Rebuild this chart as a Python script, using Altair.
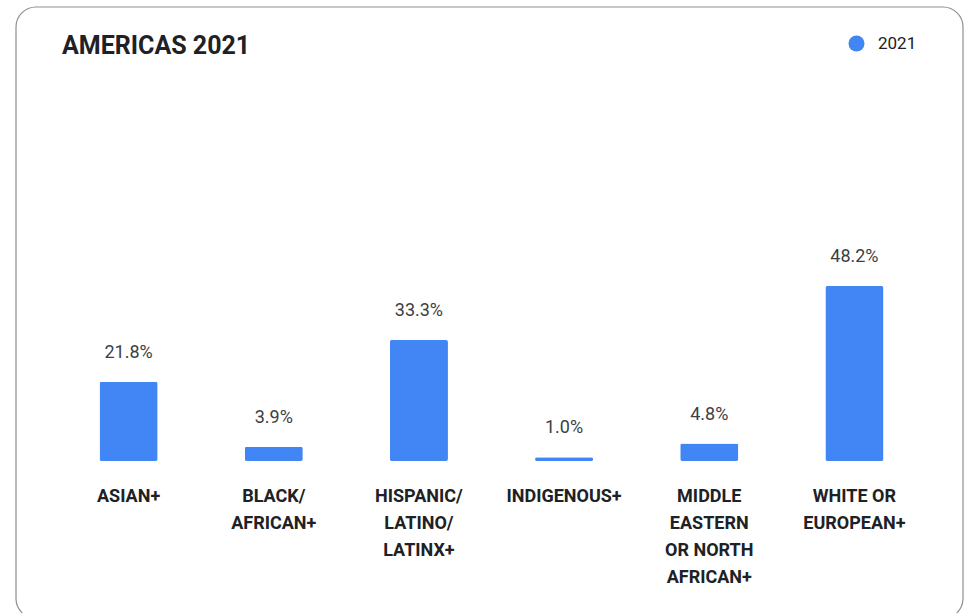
import altair as alt
import pandas as pd

categories = ["ASIAN+", "BLACK/\nAFRICAN+", "HISPANIC/\nLATINO/\nLATINX+", "INDIGENOUS+",
              "MIDDLE\nEASTERN\nOR NORTH\nAFRICAN+", "WHITE OR\nEUROPEAN+"]
values = [21.8, 3.9, 33.3, 1.0, 4.8, 48.2]
labels = ["21.8%", "3.9%", "33.3%", "1.0%", "4.8%", "48.2%"]
series = ["2021"] * 6

df = pd.DataFrame({"cat": categories, "val": values, "label": labels, "series": series})

FONT = "Roboto"
W, H = 871, 181.5
PL, PT = 56, 279.5
PR, PB = 970 - PL - W, 613 - PT - H

x = alt.X("cat:N", sort=categories, title=None,
          scale=alt.Scale(paddingInner=0.6, paddingOuter=0.3),
          axis=alt.Axis(labelAngle=0, ticks=False, domain=False, grid=False,
                        labelExpr="split(datum.label, '\\n')",
                        labelFont=FONT, labelFontSize=18, labelFontWeight="bold",
                        labelColor="#202124", labelLineHeight=27, labelPadding=26,
                        labelAlign="center", labelBaseline="top"))
y = alt.Y("val:Q", scale=alt.Scale(domain=[0, 50], nice=False), axis=None)

base = alt.Chart(df)

bars = base.mark_bar(color="#4285F4", cornerRadius=2).encode(
    x=x, y=y,
    color=alt.Color("series:N", scale=alt.Scale(range=["#4285F4"]),
                    legend=alt.Legend(title=None, orient="none", legendX=792, legendY=-244.5,
                                      symbolType="circle", symbolSize=256,
                                      labelFont=FONT, labelFontSize=17, labelColor="#202124",
                                      symbolStrokeWidth=0, labelOffset=13))
)

text = base.mark_text(font=FONT, fontSize=18, color="#3c4043", dy=-24,
                      baseline="alphabetic").encode(
    x=alt.X("cat:N", sort=categories), y=y, text="label:N")

card = alt.Chart(pd.DataFrame({"a": [0]})).mark_rect(
    fill=None, stroke="#8f8f8f", strokeWidth=1.2, cornerRadius=20
).encode(x=alt.value(-40), x2=alt.value(907), y=alt.value(-272.5), y2=alt.value(339))

chart = alt.layer(card, bars, text).properties(
    width=W, height=H,
    padding={"left": PL, "top": PT, "right": PR, "bottom": PB},
    autosize=alt.AutoSizeParams(type="none"),
    title=alt.TitleParams("AMERICAS 2021", anchor="start", frame="group",
                          font=FONT, fontSize=25, fontWeight="bold", color="#202124",
                          dx=6, dy=73, baseline="alphabetic", offset=0),
).configure_view(stroke=None)

chart.save("out.html", embed_options={"renderer": "svg", "actions": False})
